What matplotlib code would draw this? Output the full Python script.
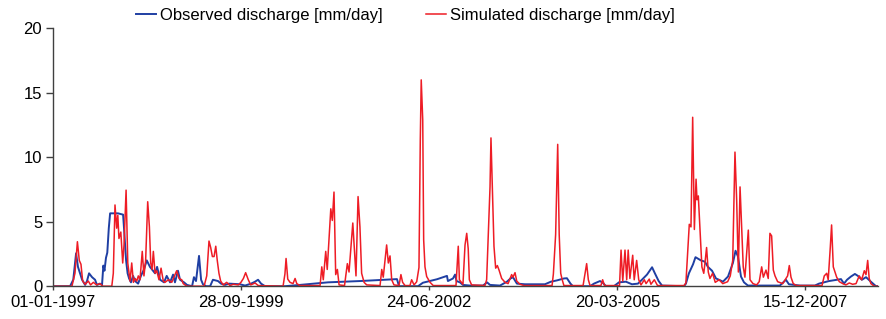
import matplotlib
matplotlib.use("Agg")
import matplotlib.pyplot as plt
import matplotlib.dates as mdates
import pandas as pd

# day index since 01-01-1997 and discharge [mm/day]
start = "1997-01-01"

obs_day = [0, 89, 106, 121, 131, 153, 169, 179, 190, 206, 222, 232, 248, 259,
           266, 272, 280, 287, 295, 302, 344, 371, 376, 387, 395, 403, 413, 424,
           435, 451, 466, 482, 497, 514, 530, 541, 552, 568, 589, 603, 621, 637,
           647, 663, 674, 695, 711, 738, 748, 759, 775, 786, 796, 812, 834, 849,
           876, 892, 913, 935, 993, 1020, 1052, 1073, 1089, 1105, 1126, 1232,
           1312, 1461, 1631, 1828, 1839, 1940, 1966, 2041, 2094, 2099, 2126,
           2137, 2145, 2163, 2179, 2216, 2286, 2307, 2323, 2376, 2413, 2432,
           2445, 2466, 2509, 2615, 2647, 2679, 2716, 2732, 2751, 2764, 2855,
           2876, 2908, 2924, 2940, 2982, 3009, 3046, 3078, 3110, 3131, 3158,
           3185, 3200, 3220, 3238, 3355, 3365, 3381, 3403, 3416, 3445, 3466,
           3482, 3504, 3525, 3541, 3562, 3589, 3615, 3629, 3642, 3658, 3674,
           3695, 3865, 3897, 3913, 3972, 4051, 4073, 4126, 4168, 4190, 4206,
           4222, 4243, 4264, 4280, 4301, 4323, 4349, 4376, 4383]
obs_q = [0.0, 0.0, 0.5, 2.55, 1.5, 0.5, 0.1, 0.4, 1.0, 0.7, 0.5, 0.1, 0.2, 0.1,
         1.6, 1.2, 2.2, 2.6, 4.5, 5.65, 5.65, 5.55, 4.5, 2.0, 1.0, 0.6, 0.3, 0.8,
         0.4, 0.2, 0.8, 1.3, 2.0, 1.5, 1.2, 1.0, 1.5, 0.5, 0.3, 0.8, 0.3, 0.9,
         0.3, 1.2, 0.5, 0.3, 0.1, 0.0, 0.7, 0.4, 2.35, 0.5, 0.15, 0.0, 0.0, 0.5,
         0.4, 0.2, 0.1, 0.2, 0.15, 0.05, 0.2, 0.35, 0.5, 0.2, 0.0, 0.0,
         0.1, 0.3, 0.4, 0.55, 0.0, 0.0, 0.27, 0.54, 0.8, 0.4, 0.6,
         0.9, 0.4, 0.3, 0.1, 0.05, 0.05, 0.3, 0.1, 0.05, 0.35, 0.6,
         0.7, 0.2, 0.15, 0.15, 0.35, 0.45, 0.6, 0.62, 0.2, 0.0, 0.0,
         0.2, 0.4, 0.25, 0.0, 0.0, 0.3, 0.35, 0.15, 0.2, 0.5, 0.9,
         1.47, 1.0, 0.4, 0.05, 0.0, 0.2, 1.0, 1.7, 2.25, 2.0, 1.9,
         1.5, 1.2, 0.6, 0.5, 0.35, 0.75, 1.8, 2.75, 2.3, 0.75, 0.3,
         0.05, 0.05, 0.5, 0.15, 0.05, 0.05, 0.2, 0.4, 0.5, 0.55, 0.2,
         0.5, 0.75, 0.95, 0.8, 0.5, 0.7, 0.35, 0.0, 0.0]

sim_day = [0, 99, 115, 128, 138, 147, 156, 169, 186, 198, 213, 230, 248, 264,
           311, 319, 328, 337, 343, 349, 359, 369, 376, 387, 396, 408, 417, 426,
           435, 444, 452, 461, 473, 482, 491, 502, 511, 518, 525, 532, 541, 550,
           562, 573, 585, 594, 612, 630, 656, 669, 683, 691, 710, 802, 816, 828,
           837, 846, 855, 864, 872, 881, 890, 904, 922, 940, 957, 984, 998, 1011,
           1023, 1037, 1050, 1073, 1090, 1222, 1232, 1238, 1247, 1259, 1275,
           1286, 1295, 1312, 1419, 1428, 1436, 1449, 1457, 1476, 1484, 1493,
           1502, 1511, 1520, 1549, 1564, 1573, 1583, 1593, 1601, 1610, 1621,
           1631, 1640, 1653, 1667, 1738, 1747, 1755, 1773, 1782, 1791, 1800,
           1812, 1839, 1849, 1858, 1871, 1897, 1906, 1919, 1933, 1945, 1952,
           1957, 1965, 1970, 1977, 1986, 2004, 2021, 2142, 2154, 2160, 2179,
           2190, 2199, 2207, 2213, 2225, 2296, 2305, 2314, 2323, 2328, 2335,
           2344, 2353, 2362, 2371, 2385, 2403, 2419, 2438, 2445, 2456, 2465,
           2482, 2504, 2653, 2660, 2672, 2683, 2691, 2699, 2707, 2716, 2818,
           2828, 2837, 2846, 2855, 2913, 2922, 2932, 3012, 3020, 3029, 3041,
           3050, 3058, 3067, 3082, 3090, 3103, 3114, 3126, 3144, 3153, 3170,
           3179, 3197, 3214, 3355, 3365, 3383, 3392, 3401, 3410, 3419, 3424,
           3431, 3440, 3450, 3460, 3466, 3475, 3484, 3493, 3507, 3521, 3542,
           3561, 3587, 3601, 3614, 3626, 3635, 3644, 3653, 3662, 3670, 3679,
           3697, 3706, 3722, 3741, 3755, 3768, 3777, 3791, 3803, 3812, 3821,
           3830, 3839, 3853, 3880, 3906, 3915, 3924, 3936, 3954, 4089, 4101,
           4114, 4122, 4133, 4140, 4149, 4158, 4167, 4181, 4199, 4216, 4234,
           4252, 4270, 4287, 4300, 4314, 4323, 4332, 4340, 4349, 4367, 4383]
sim_q = [0.0, 0.0, 1.0, 3.45, 2.0, 1.7, 0.4, 0.15, 0.4, 0.1, 0.3, 0.1, 0.2, 0.0,
         0.0, 1.0, 6.3, 4.5, 5.5, 3.7, 4.2, 1.8, 3.2, 7.45, 1.8, 0.4, 1.8, 0.3,
         0.6, 0.4, 0.8, 0.5, 2.7, 0.8, 2.0, 6.55, 4.6, 1.8, 1.3, 2.7, 1.0, 1.2,
         0.5, 1.4, 0.4, 0.3, 0.5, 0.3, 1.2, 0.6, 0.5, 0.2, 0.0, 0.0, 0.8, 3.5,
         3.0, 2.3, 2.3, 3.1, 2.0, 1.0, 0.4, 0.1, 0.3, 0.05, 0.15, 0.1, 0.3, 0.6,
         1.05, 0.5, 0.1, 0.25, 0.05, 0.0, 0.95, 2.15, 0.55, 0.3, 0.2,
         0.6, 0.2, 0.05, 0.05, 1.5, 0.5, 2.7, 1.3, 6.0, 5.1, 7.3,
         0.9, 1.3, 0.1, 0.05, 1.75, 1.1, 3.0, 4.9, 3.0, 0.8, 6.95,
         4.6, 1.0, 0.3, 0.1, 0.05, 1.3, 0.7, 3.2, 1.8, 2.35, 0.5,
         0.1, 0.05, 0.9, 0.3, 0.05, 0.05, 0.5, 0.1, 0.35, 1.45, 11.3,
         16.0, 12.9, 3.6, 1.5, 0.75, 0.3, 0.05, 0.05, 3.1, 0.5, 0.15,
         3.2, 4.1, 2.9, 0.5, 0.1, 0.05, 0.5, 4.0, 7.7, 11.5, 7.7,
         3.1, 1.4, 1.6, 1.25, 0.6, 0.3, 0.2, 0.9, 0.7, 1.05, 0.4,
         0.15, 0.05, 0.05, 0.95, 4.0, 11.0, 4.0, 1.0, 0.5, 0.05, 0.05,
         0.95, 1.75, 0.5, 0.05, 0.05, 0.5, 0.05, 0.05, 2.8, 0.4, 2.8,
         0.5, 2.8, 0.6, 2.4, 0.5, 2.0, 0.5, 0.1, 0.5, 0.2, 0.55,
         0.15, 0.5, 0.05, 0.05, 0.25, 4.8, 4.6, 13.1, 4.4, 8.3, 6.7,
         7.0, 4.4, 1.5, 1.0, 1.75, 3.0, 1.1, 0.6, 1.0, 0.3, 0.5,
         0.2, 0.35, 0.8, 2.0, 10.4, 6.7, 1.1, 7.7, 4.4, 1.5, 0.7,
         4.35, 0.5, 0.2, 0.1, 0.35, 1.5, 0.7, 1.25, 0.6, 4.1, 3.9,
         1.25, 0.8, 0.35, 0.2, 0.8, 1.6, 0.7, 0.2, 0.05, 0.05, 0.8,
         1.0, 0.5, 3.0, 4.75, 1.5, 1.1, 0.7, 0.35, 0.2, 0.1, 0.25,
         0.15, 0.2, 0.8, 0.5, 1.2, 0.9, 2.0, 0.6, 0.2, 0.0, 0.0]

tick_day = [0, 1000, 2000, 3000, 4000]
labels = ["Observed discharge [mm/day]", "Simulated discharge [mm/day]"]

t0 = pd.Timestamp(start)
obs_t = t0 + pd.to_timedelta(obs_day, unit="D")
sim_t = t0 + pd.to_timedelta(sim_day, unit="D")
ticks = t0 + pd.to_timedelta(tick_day, unit="D")

plt.rcParams["font.family"] = ["Liberation Sans", "DejaVu Sans"]
plt.rcParams["font.size"] = 12

fig = plt.figure(figsize=(8.86, 3.19), dpi=100)
ax = fig.add_axes([0.0602, 0.1028, 0.9308, 0.8085])

ax.plot(obs_t, obs_q, color="#1f3fa3", lw=1.4, label=labels[0])
ax.plot(sim_t, sim_q, color="#ee1c25", lw=1.1, label=labels[1])

ax.set_ylim(0, 20)
ax.set_yticks([0, 5, 10, 15, 20])
ax.set_xlim(t0, t0 + pd.Timedelta(days=4387))
ax.set_xticks(ticks)
ax.xaxis.set_major_formatter(mdates.DateFormatter("%d-%m-%Y"))

for s in ("top", "right"):
    ax.spines[s].set_visible(False)
for s in ("left", "bottom"):
    ax.spines[s].set_color("#404040")
    ax.spines[s].set_linewidth(1.0)
ax.tick_params(axis="y", length=5, width=1, color="#404040", pad=3)
ax.tick_params(axis="x", length=3, width=1, color="#404040", pad=3)

fig.legend(loc="upper left", bbox_to_anchor=(136 / 886, 0.975), ncol=2,
           frameon=False, borderpad=0, borderaxespad=0, handlelength=1.2,
           handletextpad=0.25, columnspacing=2.6)

fig.savefig("out.png", dpi=100, facecolor="white")
